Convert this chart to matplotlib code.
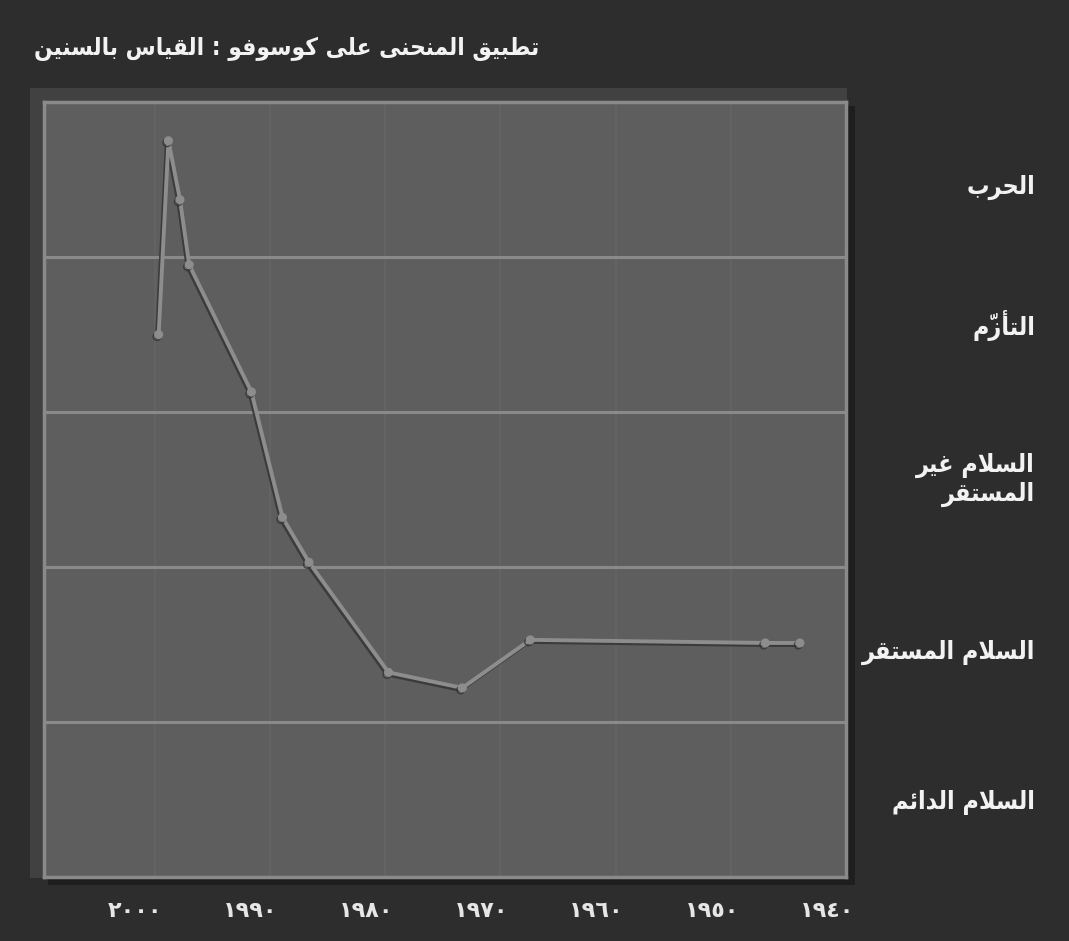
import matplotlib
matplotlib.use("Agg")
import matplotlib.pyplot as plt
import matplotlib.patheffects as pe
from matplotlib.patches import Rectangle
from matplotlib.transforms import blended_transform_factory, ScaledTranslation

# ---------------- data ----------------
title_text = "تطبيق المنحنى على كوسوفو : القياس بالسنين"
level_labels = ["السلام الدائم", "السلام المستقر", "السلام غير\nالمستقر", "التأزّم", "الحرب"]
tick_years = [2000, 1990, 1980, 1970, 1960, 1950, 1940]
tick_labels = ["٢٠٠٠", "١٩٩٠", "١٩٨٠", "١٩٧٠", "١٩٦٠", "١٩٥٠", "١٩٤٠"]
years = [1999.65, 1998.8, 1997.8, 1997.0, 1991.6, 1988.9, 1986.6, 1979.7, 1973.3, 1967.4, 1947.0, 1944.0]
levels = [3.50, 4.75, 4.37, 3.95, 3.13, 2.32, 2.03, 1.32, 1.22, 1.53, 1.51, 1.51]

# ------------- Arabic shaping (presentation forms + visual order) -------------
DUAL = {c: s for c, s in [
    ('\u0626', 0xFE89), ('\u0628', 0xFE8F), ('\u062A', 0xFE95), ('\u062B', 0xFE99),
    ('\u062C', 0xFE9D), ('\u062D', 0xFEA1), ('\u062E', 0xFEA5), ('\u0633', 0xFEB1),
    ('\u0634', 0xFEB5), ('\u0635', 0xFEB9), ('\u0636', 0xFEBD), ('\u0637', 0xFEC1),
    ('\u0638', 0xFEC5), ('\u0639', 0xFEC9), ('\u063A', 0xFECD), ('\u0641', 0xFED1),
    ('\u0642', 0xFED5), ('\u0643', 0xFED9), ('\u0644', 0xFEDD), ('\u0645', 0xFEE1),
    ('\u0646', 0xFEE5), ('\u0647', 0xFEE9), ('\u064A', 0xFEF1)]}
RIGHT = {c: s for c, s in [
    ('\u0622', 0xFE81), ('\u0623', 0xFE83), ('\u0624', 0xFE85), ('\u0625', 0xFE87),
    ('\u0627', 0xFE8D), ('\u0629', 0xFE93), ('\u062F', 0xFEA9), ('\u0630', 0xFEAB),
    ('\u0631', 0xFEAD), ('\u0632', 0xFEAF), ('\u0648', 0xFEED), ('\u0649', 0xFEEF)]}
LAMALEF = {'\u0622': 0xFEF5, '\u0623': 0xFEF7, '\u0625': 0xFEF9, '\u0627': 0xFEFB}
TRANSP = set(chr(c) for c in range(0x064B, 0x0653))


def _shape_line(s):
    ch = list(s)
    n = len(ch)

    def prev_base(i):
        j = i - 1
        while j >= 0 and ch[j] in TRANSP:
            j -= 1
        return ch[j] if j >= 0 else None

    def next_idx(i):
        j = i + 1
        while j < n and ch[j] in TRANSP:
            j += 1
        return j

    out = []
    i = 0
    while i < n:
        c = ch[i]
        if c in TRANSP or (c not in DUAL and c not in RIGHT):
            out.append(c)
            i += 1
            continue
        p = prev_base(i)
        jp = p is not None and p in DUAL
        j = next_idx(i)
        nc = ch[j] if j < n else None
        if c == '\u0644' and nc in LAMALEF:
            base = LAMALEF[nc]
            out.append(chr(base + (1 if jp else 0)))
            out.extend(ch[i + 1:j])
            i = j + 1
            continue
        if c in DUAL:
            jn = nc is not None and (nc in DUAL or nc in RIGHT)
            start = DUAL[c]
            if jp and jn:
                f = 3
            elif jp:
                f = 1
            elif jn:
                f = 2
            else:
                f = 0
        else:
            start = RIGHT[c]
            f = 1 if jp else 0
        out.append(chr(start + f))
        i += 1
    # visual order: reverse clusters; marks placed before their base so they sit on it
    clusters = []
    for c in out:
        if c in TRANSP and clusters:
            clusters[-1] = c + clusters[-1]
        else:
            clusters.append(c)
    return "".join(reversed(clusters))


def ar(s):
    return "\n".join(_shape_line(line) for line in s.split("\n"))


# ---------------- figure ----------------
W, H = 1069, 941
BG = '#2d2d2d'
fig = plt.figure(figsize=(W / 100, H / 100), dpi=100, facecolor=BG)
plt.rcParams['font.family'] = ['DejaVu Sans']

L, R, T, B = 44, 846, 102, 877
ax = fig.add_axes([L / W, 1 - B / H, (R - L) / W, (B - T) / H])
ax.set_facecolor('#5e5e5e')

# bevel frame around plot area: lighter band top/left, dark shadow right/bottom
fig.patches.append(Rectangle((48 / W, 1 - 885 / H), (855 - 48) / W, (885 - 106) / H,
                             transform=fig.transFigure, facecolor='#1e1e1e',
                             edgecolor='none', zorder=-5))
fig.patches.append(Rectangle((30 / W, 1 - 878 / H), (847 - 30) / W, (878 - 88) / H,
                             transform=fig.transFigure, facecolor='#414141',
                             edgecolor='none', zorder=-4))

ax.set_xlim(2009.6, 1940)
ax.set_ylim(0, 5)

# grid
for v in [1, 2, 3, 4]:
    ax.axhline(v, color='#8a8a8a', lw=2.2, zorder=1)
for yr in tick_years[:-1]:
    ax.axvline(yr, color='#656565', lw=1.2, zorder=0.5)

for side in ['top', 'left', 'right', 'bottom']:
    ax.spines[side].set_color('#8a8a8a')
    ax.spines[side].set_linewidth(2.5)

# data line
ax.plot(years, levels, color='#8d8d8d', lw=2.8, marker='o', ms=5.5,
        markerfacecolor='#8d8d8d', markeredgecolor='#8d8d8d', zorder=3,
        path_effects=[pe.SimpleLineShadow(offset=(-1.2, -1.5), shadow_color='#383838', alpha=0.9),
                      pe.Normal()])

# ticks
ax.set_yticks([])
ax.set_xticks(tick_years)
ax.set_xticklabels(tick_labels, color='#e6e6e6', fontsize=16, fontweight='bold')
ax.tick_params(axis='x', length=0, pad=17)
off = ScaledTranslation(8 / 100, 0, fig.dpi_scale_trans)
for lbl in ax.get_xticklabels():
    lbl.set_horizontalalignment('right')
    lbl.set_transform(lbl.get_transform() + off)

# right-side level labels
tr = blended_transform_factory(fig.transFigure, ax.transData)
centers = [0.48, 1.45, 2.56, 3.56, 4.45]
for lab, yc in zip(level_labels, centers):
    ax.text(1035 / W, yc, ar(lab), transform=tr, ha='right', va='center',
            color='#f2f2f2', fontsize=18, fontweight='bold', fontstretch='condensed',
            linespacing=1.2, multialignment='right', clip_on=False)

# title
fig.text(34 / W, 1 - 49 / H, ar(title_text), ha='left', va='center',
         color='#f2f2f2', fontsize=17.5, fontweight='bold', fontstretch='condensed')

fig.savefig('out.png', dpi=100, facecolor=BG)
